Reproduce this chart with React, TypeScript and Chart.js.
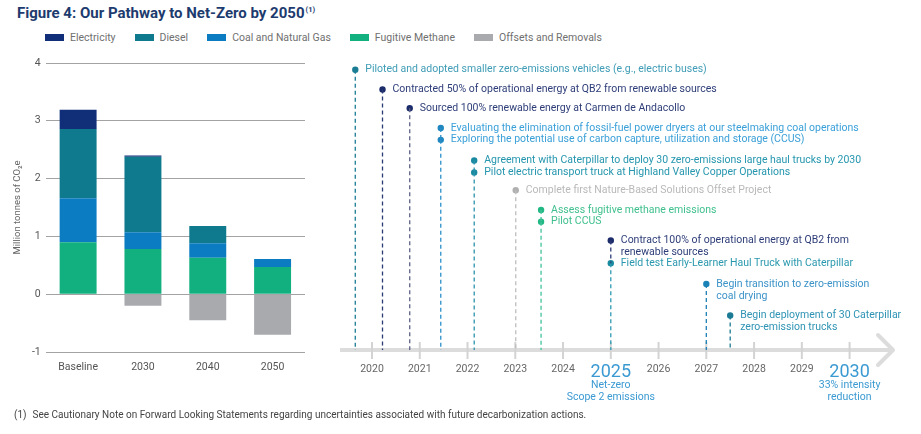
import React, { useEffect, useRef } from 'react';
import { Chart, registerables } from 'chart.js';

Chart.register(...registerables);

const FONT = 'Roboto, "Noto Sans", sans-serif';

// ---- Bar chart data ----
const CATEGORIES = ['Baseline', '2030', '2040', '2050'];
const SERIES_NAMES = ['Electricity', 'Diesel', 'Coal and Natural Gas', 'Fugitive Methane', 'Offsets and Removals'];
const SERIES_COLORS = ['#112f78', '#0f7a8d', '#0b7cc2', '#11b07e', '#a9aaae'];
const ELECTRICITY = [0.33, 0.02, 0, 0];
const DIESEL = [1.2, 1.31, 0.3, 0];
const COAL_GAS = [0.76, 0.29, 0.25, 0.14];
const FUGITIVE_METHANE = [0.9, 0.78, 0.63, 0.47];
const OFFSETS = [0, -0.2, -0.45, -0.7];
const Y_MIN = -1;
const Y_MAX = 4;
const Y_STEP = 1;
const Y_TITLE = 'Million tonnes of CO₂e';

// ---- Timeline data ----
const YEARS = [2020, 2021, 2022, 2023, 2024, 2025, 2026, 2027, 2028, 2029, 2030];
const HIGHLIGHT_YEARS = [2025, 2030];
const HIGHLIGHT_NOTES = [['Net-zero', 'Scope 2 emissions'], ['33% intensity', 'reduction']];
const MILESTONE_YEARS = [2019.65, 2020.22, 2020.79, 2021.44, 2021.44, 2022.14, 2022.14, 2023.01, 2023.54, 2023.54, 2025.0, 2025.0, 2027.0, 2027.5];
const MILESTONE_LEVELS = [284, 264, 245, 225, 213, 192, 180, 162, 142, 130, 111, 88, 67, 35];
const MILESTONE_TEXT = [
  ['Piloted and adopted smaller zero-emissions vehicles (e.g., electric buses)'],
  ['Contracted 50% of operational energy at QB2 from renewable sources'],
  ['Sourced 100% renewable energy at Carmen de Andacollo'],
  ['Evaluating the elimination of fossil-fuel power dryers at our steelmaking coal operations'],
  ['Exploring the potential use of carbon capture, utilization and storage (CCUS)'],
  ['Agreement with Caterpillar to deploy 30 zero-emissions large haul trucks by 2030'],
  ['Pilot electric transport truck at Highland Valley Copper Operations'],
  ['Complete first Nature-Based Solutions Offset Project'],
  ['Assess fugitive methane emissions'],
  ['Pilot CCUS'],
  ['Contract 100% of operational energy at QB2 from', 'renewable sources'],
  ['Field test Early-Learner Haul Truck with Caterpillar'],
  ['Begin transition to zero-emission', 'coal drying'],
  ['Begin deployment of 30 Caterpillar', 'zero-emission trucks'],
];
const TEXT_COLORS = ['#3f9cb6', '#2e3d78', '#2e3d78', '#3aa0d8', '#3aa0d8', '#2596ae', '#2596ae', '#b9b9b9', '#40c08e', '#40c08e', '#2e3d78', '#2a98ae', '#3c93c8', '#2f94b4'];
const DOT_COLORS = ['#1b7d93', '#1c2b6a', '#1c2b6a', '#1f86c0', '#1f86c0', '#1a8aa0', '#1a8aa0', '#b0b0b0', '#22b884', '#22b884', '#1c2b6a', '#1a8a9e', '#1b82b8', '#1b7b94'];
const STEM_COLORS = ['#1b7d93', '#2c3a74', '#5d6488', '#2a8fc8', '#2a8fc8', '#2b93ad', '#2b93ad', '#bdbdbd', '#43c29c', '#43c29c', '#2c3a74', '#2e9ab2', '#1f7fb3', '#1d7a92'];

const HIGHLIGHT_COLOR = '#3b9ad2';

const timelinePlugin = {
  id: 'timelineDecor',
  beforeDatasetsDraw(chart: any) {
    const { ctx, chartArea, scales } = chart;
    const x = scales.x;
    const y = scales.y;
    const y0 = y.getPixelForValue(0);
    ctx.save();
    ctx.strokeStyle = '#dcdcdc';
    ctx.lineWidth = 4;
    ctx.lineCap = 'butt';
    ctx.beginPath();
    ctx.moveTo(chartArea.left, y0);
    ctx.lineTo(chartArea.right - 2, y0);
    ctx.stroke();
    ctx.lineJoin = 'round';
    ctx.lineCap = 'round';
    ctx.beginPath();
    ctx.moveTo(chartArea.right - 16, y0 - 15);
    ctx.lineTo(chartArea.right - 1, y0);
    ctx.lineTo(chartArea.right - 16, y0 + 15);
    ctx.stroke();
    ctx.lineCap = 'butt';
    ctx.lineWidth = 2;
    ctx.strokeStyle = '#d3d3d3';
    YEARS.forEach((yr) => {
      const px = x.getPixelForValue(yr);
      ctx.beginPath();
      ctx.moveTo(px, y0 - 8);
      ctx.lineTo(px, y0 + 9);
      ctx.stroke();
    });
    ctx.restore();
  },
  afterDatasetsDraw(chart: any) {
    const { ctx, scales } = chart;
    const x = scales.x;
    const y = scales.y;
    const y0 = y.getPixelForValue(0);
    ctx.save();
    ctx.font = `10.5px ${FONT}`;
    ctx.textBaseline = 'middle';
    ctx.textAlign = 'left';
    MILESTONE_TEXT.forEach((lines, i) => {
      const px = x.getPixelForValue(MILESTONE_YEARS[i]) + 10;
      const py = y.getPixelForValue(MILESTONE_LEVELS[i]);
      ctx.fillStyle = TEXT_COLORS[i];
      lines.forEach((line, k) => ctx.fillText(line, px, py + k * 12.3));
    });
    ctx.textAlign = 'center';
    ctx.fillStyle = HIGHLIGHT_COLOR;
    HIGHLIGHT_YEARS.forEach((yr, i) => {
      const px = x.getPixelForValue(yr);
      HIGHLIGHT_NOTES[i].forEach((line, k) => ctx.fillText(line, px, y0 + 35.5 + k * 11.5));
    });
    ctx.restore();
  },
};

export default function App() {
  const barRef = useRef<HTMLCanvasElement | null>(null);
  const lineRef = useRef<HTMLCanvasElement | null>(null);

  useEffect(() => {
    const barDatasets = [
      { label: SERIES_NAMES[3], data: FUGITIVE_METHANE, backgroundColor: SERIES_COLORS[3] },
      { label: SERIES_NAMES[2], data: COAL_GAS, backgroundColor: SERIES_COLORS[2] },
      { label: SERIES_NAMES[1], data: DIESEL, backgroundColor: SERIES_COLORS[1] },
      { label: SERIES_NAMES[0], data: ELECTRICITY, backgroundColor: SERIES_COLORS[0] },
      { label: SERIES_NAMES[4], data: OFFSETS, backgroundColor: SERIES_COLORS[4] },
    ].map((d) => ({ ...d, barPercentage: 0.57, categoryPercentage: 1, borderWidth: 0 }));

    const bar = new Chart(barRef.current as HTMLCanvasElement, {
      type: 'bar',
      data: { labels: CATEGORIES, datasets: barDatasets },
      options: {
        animation: false,
        responsive: false,
        maintainAspectRatio: false,
        layout: { padding: { left: 8, right: 15, top: 13, bottom: 0 } },
        plugins: { legend: { display: false }, tooltip: { enabled: false } },
        scales: {
          x: {
            stacked: true,
            grid: { display: false, drawTicks: false },
            border: { display: false },
            ticks: { color: '#555', font: { family: FONT, size: 10.5 }, padding: 9 },
            afterFit: (s: any) => { s.height = 33; },
          },
          y: {
            stacked: true,
            min: Y_MIN,
            max: Y_MAX,
            ticks: { stepSize: Y_STEP, color: '#555', font: { family: FONT, size: 10.5 }, padding: 5 },
            grid: { color: '#a3a3a3', lineWidth: 1, drawTicks: false },
            border: { display: false },
            title: { display: true, text: Y_TITLE, color: '#666', font: { family: FONT, size: 9.5 } },
            afterFit: (s: any) => { s.width = 37.7; },
          },
        },
      } as any,
    });

    const stemDatasets = MILESTONE_YEARS.map((yr, i) => {
      const lower = MILESTONE_LEVELS.filter((l, j) => MILESTONE_YEARS[j] === yr && l < MILESTONE_LEVELS[i]);
      const end = lower.length ? Math.max(...lower) : 0;
      return {
        data: [{ x: yr, y: MILESTONE_LEVELS[i] }, { x: yr, y: end }],
        borderColor: STEM_COLORS[i],
        borderWidth: 1.3,
        borderDash: [4, 3],
        pointRadius: 0,
        showLine: true,
        fill: false,
      };
    });
    const dotDataset = {
      data: MILESTONE_YEARS.map((x, i) => ({ x, y: MILESTONE_LEVELS[i] })),
      pointRadius: 3.2,
      pointBackgroundColor: DOT_COLORS,
      pointBorderWidth: 0,
      showLine: false,
    };

    const timeline = new Chart(lineRef.current as HTMLCanvasElement, {
      type: 'scatter',
      data: { datasets: [...stemDatasets, dotDataset] as any },
      options: {
        animation: false,
        responsive: false,
        maintainAspectRatio: false,
        layout: { padding: { left: 10, right: 27, top: 0, bottom: 0 } },
        plugins: { legend: { display: false }, tooltip: { enabled: false } },
        scales: {
          x: {
            type: 'linear',
            min: 2019.33,
            max: 2030.93,
            afterBuildTicks: (s: any) => { s.ticks = YEARS.map((v) => ({ value: v })); },
            grid: { display: false, drawTicks: false },
            border: { display: false },
            ticks: {
              autoSkip: false,
              maxRotation: 0,
              padding: 12.7,
              callback: (v: any) => String(v),
              color: (c: any) => (c.tick && HIGHLIGHT_YEARS.includes(c.tick.value) ? HIGHLIGHT_COLOR : '#666'),
              font: (c: any) =>
                c.tick && HIGHLIGHT_YEARS.includes(c.tick.value)
                  ? { family: FONT, size: 18, lineHeight: 1.05 }
                  : { family: FONT, size: 10.5 },
            },
            afterFit: (s: any) => { s.height = 60; },
          },
          y: { display: false, min: 0, max: 300 },
        },
      } as any,
      plugins: [timelinePlugin],
    });

    return () => {
      bar.destroy();
      timeline.destroy();
    };
  }, []);

  return (
    <div style={{ position: 'absolute', left: 0, top: 0, width: 921, height: 434, background: '#fff', fontFamily: FONT, overflow: 'hidden' }}>
      <div style={{ position: 'absolute', left: 17, top: 4, fontWeight: 700, fontSize: 15, color: '#1d3b6e', whiteSpace: 'nowrap', lineHeight: '18px' }}>
        Figure 4: Our Pathway to Net-Zero by 2050
        <span style={{ fontSize: 7.5, position: 'relative', top: -6, marginLeft: 1 }}>(1)</span>
      </div>
      <div style={{ position: 'absolute', left: 45, top: 31, display: 'flex', alignItems: 'center', gap: 19, fontSize: 10.5, color: '#707070', whiteSpace: 'nowrap', lineHeight: '13px' }}>
        {SERIES_NAMES.map((n, i) => (
          <div key={n} style={{ display: 'flex', alignItems: 'center' }}>
            <span style={{ display: 'inline-block', width: 19, height: 7, background: SERIES_COLORS[i], marginRight: 6 }} />
            <span>{n}</span>
          </div>
        ))}
      </div>
      <canvas ref={barRef} width={320} height={335} style={{ position: 'absolute', left: 0, top: 50, width: 320, height: 335 }} />
      <canvas ref={lineRef} width={591} height={360} style={{ position: 'absolute', left: 330, top: 50, width: 591, height: 360 }} />
      <div style={{ position: 'absolute', left: 14, top: 409, fontSize: 10, color: '#444', whiteSpace: 'nowrap', lineHeight: '12px' }}>
        <span>(1)</span>
        <span style={{ marginLeft: 6 }}>See Cautionary Note on Forward Looking Statements regarding uncertainties associated with future decarbonization actions.</span>
      </div>
    </div>
  );
}
